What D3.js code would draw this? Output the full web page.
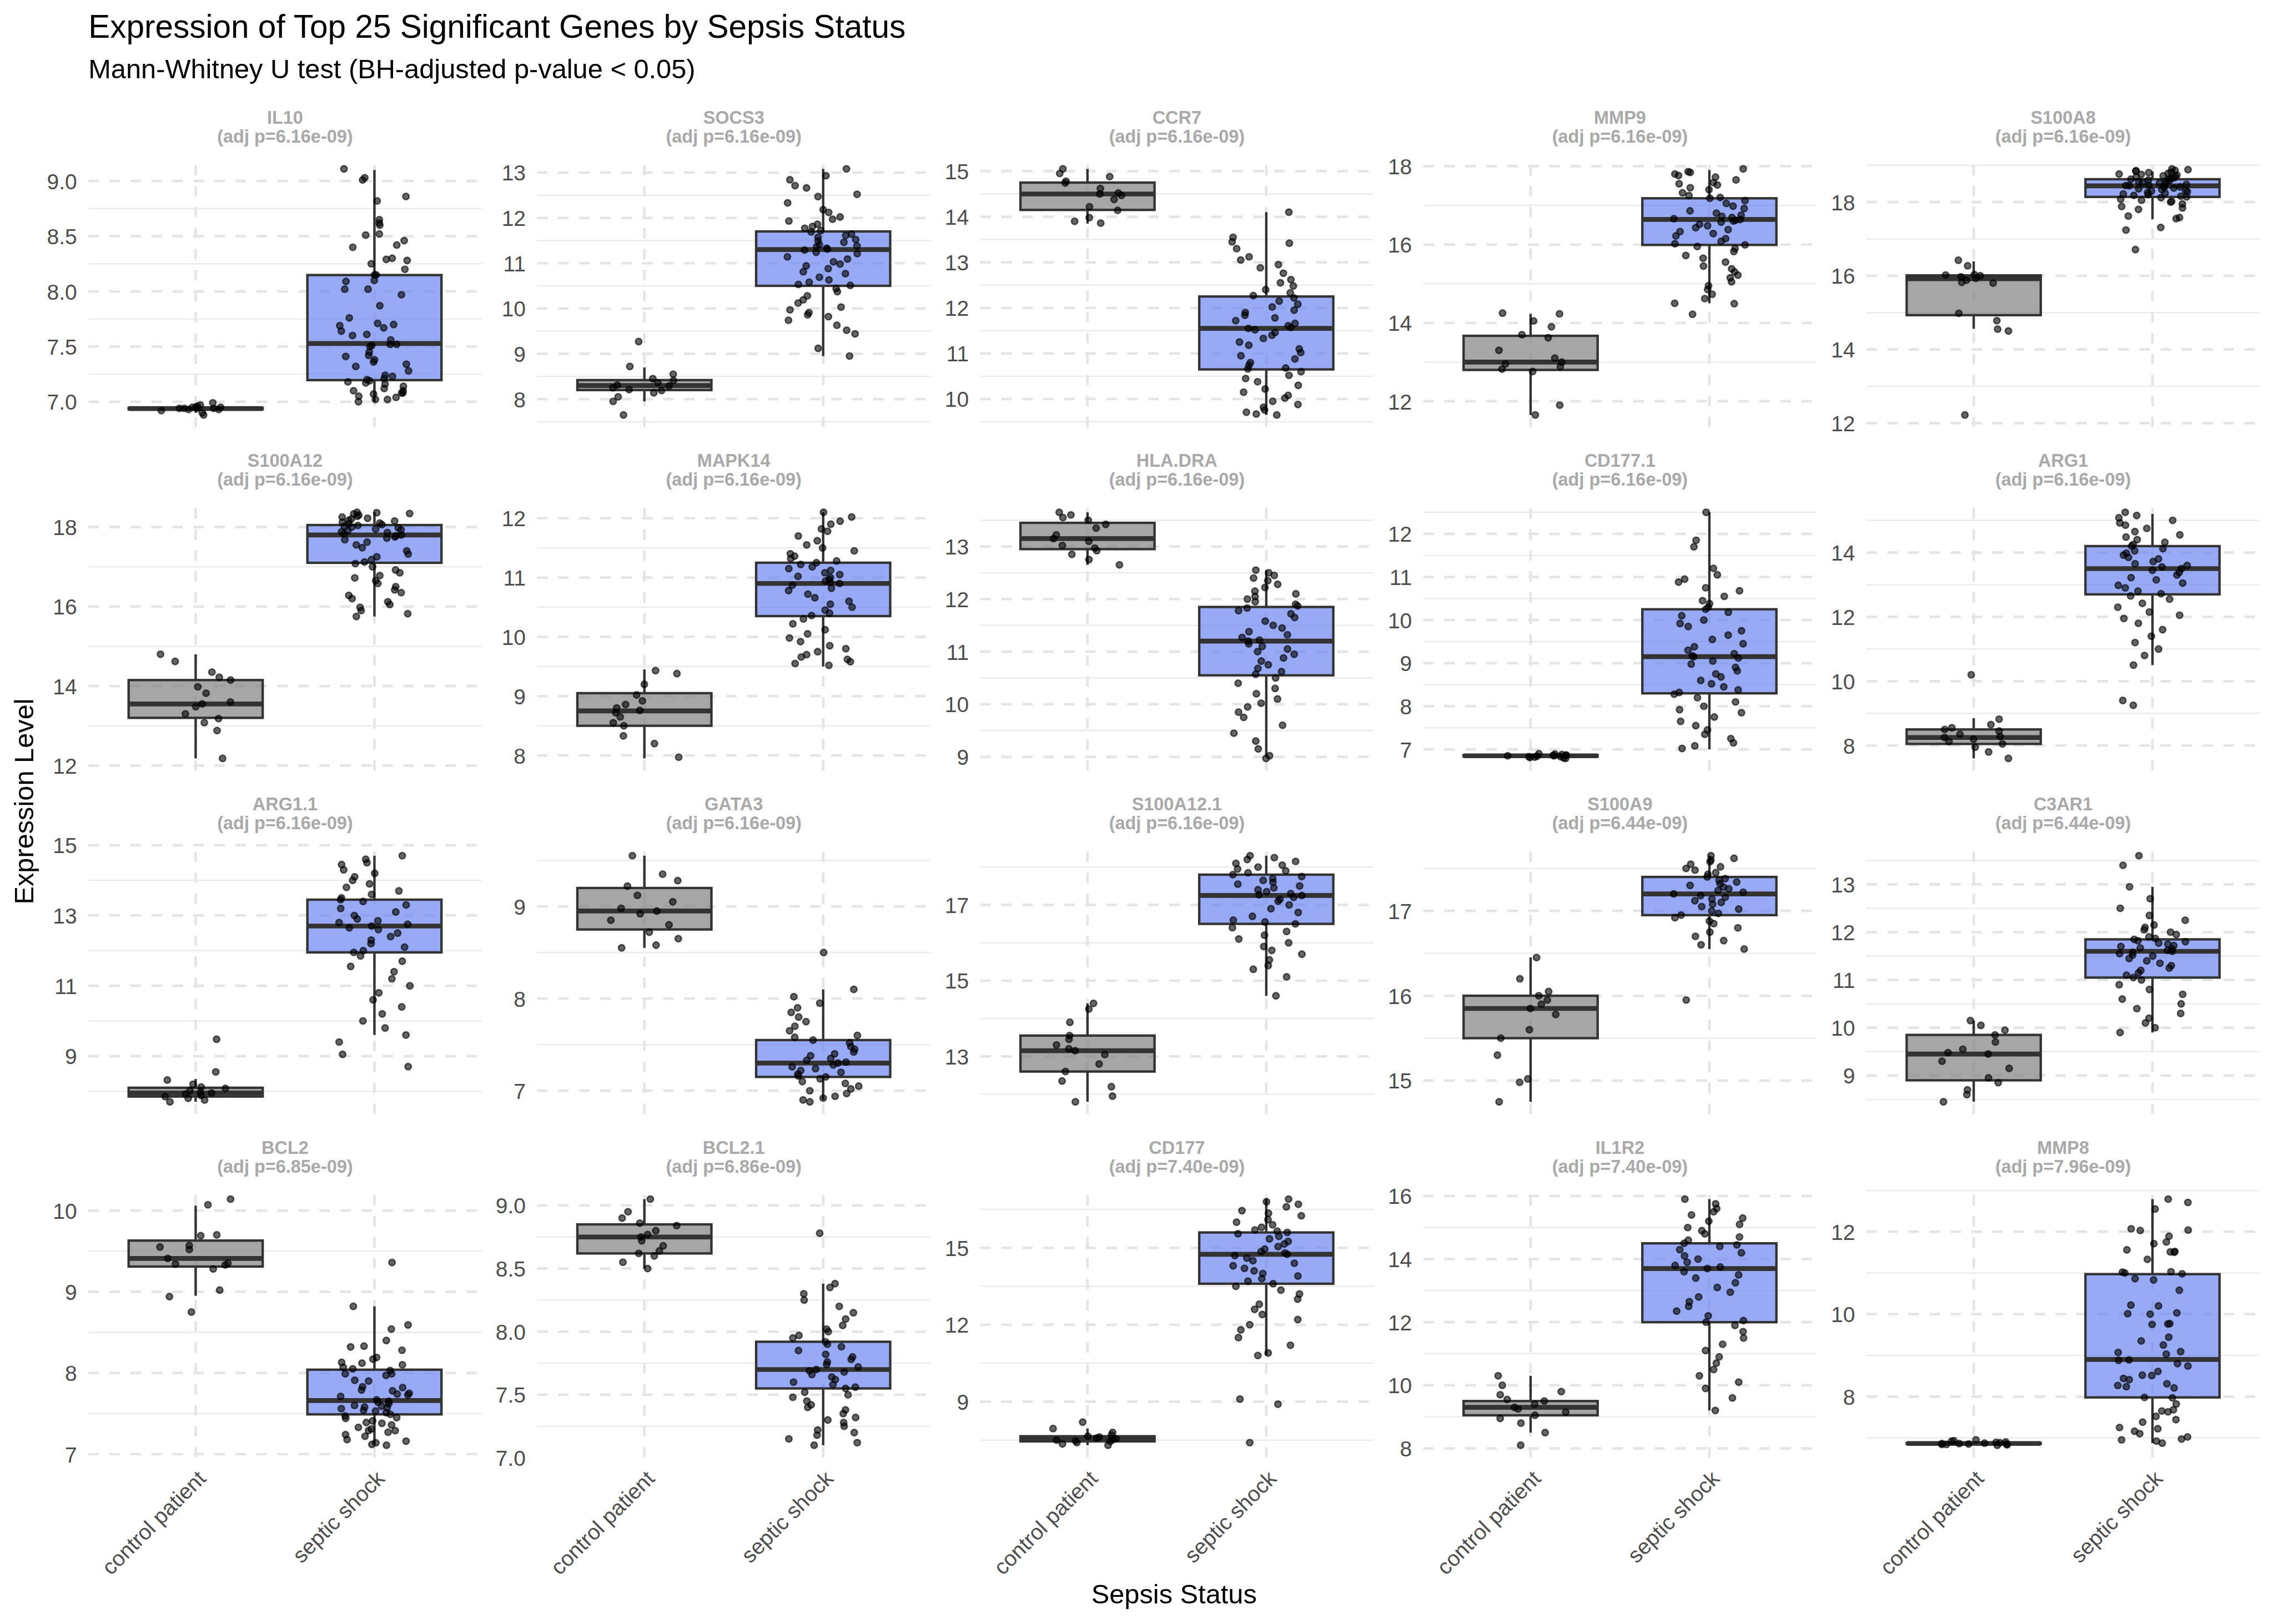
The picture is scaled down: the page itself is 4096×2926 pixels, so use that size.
<!DOCTYPE html>
<html><head><meta charset="utf-8">
<script src="https://cdn.jsdelivr.net/npm/d3@7"></script>
<style>html,body{margin:0;padding:0;background:#fff;overflow:hidden}</style>
</head><body><svg id="chart"></svg>
<script>
// ---------------- DATA ----------------
const genes = ["IL10","SOCS3","CCR7","MMP9","S100A8",
               "S100A12","MAPK14","HLA.DRA","CD177.1","ARG1",
               "ARG1.1","GATA3","S100A12.1","S100A9","C3AR1",
               "BCL2","BCL2.1","CD177","IL1R2","MMP8"];
const padj = ["6.16e-09","6.16e-09","6.16e-09","6.16e-09","6.16e-09",
              "6.16e-09","6.16e-09","6.16e-09","6.16e-09","6.16e-09",
              "6.16e-09","6.16e-09","6.16e-09","6.44e-09","6.44e-09",
              "6.85e-09","6.86e-09","7.40e-09","7.40e-09","7.96e-09"];
const groups = ["control patient","septic shock"];
const yTicks = [
  [7.0,7.5,8.0,8.5,9.0],[8,9,10,11,12,13],[10,11,12,13,14,15],[12,14,16,18],[12,14,16,18],
  [12,14,16,18],[8,9,10,11,12],[9,10,11,12,13],[7,8,9,10,11,12],[8,10,12,14],
  [9,11,13,15],[7,8,9],[13,15,17],[15,16,17],[9,10,11,12,13],
  [7,8,9,10],[7.0,7.5,8.0,8.5,9.0],[9,12,15],[8,10,12,14,16],[8,10,12]
];
// [lower whisker, Q1, median, Q3, upper whisker]
const controlStats = [
  [6.90,6.932,6.938,6.944,6.97],[7.95,8.2,8.3,8.42,8.7],[13.85,14.15,14.5,14.75,15.05],[11.65,12.8,13.0,13.67,14.23],[14.56,14.93,15.92,16.01,16.39],
  [12.18,13.2,13.55,14.15,14.8],[7.95,8.5,8.75,9.05,9.45],[12.65,12.95,13.15,13.45,13.65],[6.81,6.835,6.85,6.865,6.89],[7.6,8.05,8.25,8.5,8.85],
  [7.7,7.85,7.95,8.1,8.35],[8.55,8.75,8.95,9.2,9.55],[11.8,12.6,13.15,13.55,14.4],[14.75,15.5,15.85,16.0,16.45],[8.45,8.9,9.45,9.85,10.15],
  [8.95,9.31,9.41,9.63,10.06],[8.5,8.62,8.75,8.85,9.05],[7.3,7.45,7.55,7.65,7.95],[8.5,9.05,9.3,9.5,10.3],[6.84,6.855,6.862,6.87,6.9]
];
const shockStats = [
  [7.0,7.196,7.528,8.148,9.10],[8.95,10.5,11.3,11.7,13.08],[9.65,10.65,11.55,12.25,14.1],[14.5,15.99,16.64,17.18,17.9],[17.53,18.14,18.44,18.62,18.83],
  [15.75,17.1,17.8,18.05,18.37],[9.5,10.35,10.9,11.25,12.1],[9.0,10.55,11.2,11.85,12.55],[7.0,8.3,9.15,10.25,12.5],[10.5,12.7,13.5,14.2,15.2],
  [9.6,11.95,12.7,13.45,14.7],[6.9,7.15,7.3,7.55,8.1],[14.6,16.5,17.25,17.8,18.3],[16.55,16.95,17.2,17.4,17.65],[9.9,11.05,11.6,11.85,12.95],
  [7.13,7.49,7.66,8.04,8.82],[7.1,7.55,7.7,7.92,8.38],[10.8,13.6,14.75,15.6,16.9],[9.2,12.0,13.7,14.5,15.9],[6.87,7.98,8.90,10.97,12.79]
];
const controlValues = [
  [6.99,6.97,6.95,6.94,6.93,6.94,6.95,6.96,6.94,6.92,6.90,6.88,6.93,6.95,6.94],
  [9.27,8.72,8.55,8.45,8.41,8.36,8.31,8.29,8.25,8.21,8.19,8.14,8.05,7.95,7.65],
  [15.05,14.95,14.88,14.78,14.74,14.62,14.52,14.5,14.47,14.38,14.22,14.14,13.98,13.9,13.86],
  [14.25,14.23,14.05,13.9,13.7,13.62,13.3,13.1,13.0,12.95,12.88,12.82,12.76,11.9,11.65],
  [16.42,16.27,16.03,16.02,16.0,15.97,15.93,15.88,15.82,15.8,14.98,14.78,14.55,14.5,12.22],
  [14.8,14.62,14.35,14.22,14.15,13.98,13.82,13.6,13.55,13.48,13.3,13.18,13.08,12.88,12.18],
  [9.43,9.38,9.2,9.02,8.92,8.86,8.8,8.76,8.72,8.65,8.55,8.5,8.33,8.2,7.97],
  [13.65,13.6,13.55,13.5,13.42,13.35,13.22,13.15,13.1,13.02,12.97,12.92,12.85,12.75,12.65],
  [6.9,6.89,6.88,6.87,6.86,6.86,6.85,6.85,6.84,6.83,6.83,6.82,6.81,6.8,6.79],
  [10.2,8.82,8.65,8.55,8.5,8.45,8.35,8.28,8.25,8.2,8.12,8.05,7.95,7.8,7.6],
  [9.48,8.55,8.32,8.2,8.12,8.08,8.02,7.97,7.95,7.92,7.88,7.85,7.8,7.75,7.7],
  [9.55,9.35,9.28,9.22,9.12,9.05,8.98,8.95,8.92,8.85,8.8,8.72,8.65,8.58,8.55],
  [14.4,14.25,13.9,13.55,13.45,13.3,13.2,13.15,13.05,12.8,12.6,12.35,12.2,11.95,11.8],
  [16.45,16.2,16.05,16.0,15.95,15.9,15.85,15.78,15.6,15.5,15.3,15.02,14.98,14.75],
  [10.15,10.05,9.95,9.85,9.7,9.55,9.48,9.45,9.3,9.15,8.95,8.85,8.7,8.6,8.45],
  [10.14,10.07,9.70,9.69,9.57,9.55,9.52,9.41,9.35,9.34,9.33,9.28,9.02,8.94,8.75],
  [9.05,8.95,8.9,8.86,8.84,8.8,8.77,8.75,8.72,8.68,8.64,8.62,8.6,8.55,8.5],
  [8.2,7.95,7.8,7.7,7.65,7.62,7.58,7.55,7.52,7.5,7.47,7.45,7.4,7.35,7.3],
  [10.3,10.0,9.8,9.7,9.55,9.5,9.4,9.3,9.25,9.15,9.05,8.95,8.8,8.5,8.1],
  [6.95,6.93,6.92,6.9,6.89,6.88,6.87,6.86,6.86,6.85,6.85,6.84,6.83,6.82,6.84]
];
const shockValues = [
  [9.11,9.03,9.01,8.86,8.82,8.65,8.62,8.60,8.52,8.51,8.46,8.42,8.40,8.30,8.29,8.28,8.25,8.20,8.15,8.15,8.10,8.09,8.02,8.02,7.97,7.87,7.76,7.71,7.70,7.69,7.67,7.64,7.61,7.60,7.56,7.52,7.52,7.51,7.50,7.45,7.42,7.41,7.38,7.36,7.34,7.32,7.28,7.24,7.23,7.21,7.20,7.19,7.18,7.17,7.16,7.14,7.12,7.10,7.10,7.08,7.08,7.07,7.05,7.04,7.02,7.02,7.00],
  [13.08,12.93,12.84,12.71,12.66,12.52,12.47,12.33,12.18,12.12,12.02,11.97,11.93,11.86,11.81,11.77,11.72,11.69,11.64,11.61,11.57,11.52,11.49,11.46,11.41,11.38,11.36,11.33,11.31,11.29,11.24,11.21,11.14,11.09,11.03,10.98,10.94,10.88,10.81,10.77,10.69,10.63,10.58,10.53,10.51,10.44,10.37,10.28,10.19,10.12,10.03,9.97,9.91,9.86,9.82,9.74,9.63,9.52,9.44,9.12,8.95],
  [14.1,13.55,13.45,13.42,13.3,13.12,13.05,12.95,12.88,12.76,12.62,12.55,12.48,12.4,12.33,12.27,12.22,12.15,12.08,12.02,11.95,11.9,11.84,11.78,11.72,11.66,11.61,11.57,11.55,11.52,11.46,11.4,11.33,11.25,11.18,11.1,11.02,10.95,10.88,10.8,10.74,10.68,10.66,10.6,10.52,10.45,10.38,10.3,10.22,10.15,10.08,10.02,9.95,9.88,9.82,9.76,9.71,9.67,9.65],
  [17.93,17.86,17.84,17.8,17.76,17.72,17.65,17.58,17.55,17.52,17.45,17.4,17.32,17.25,17.2,17.18,17.12,17.05,16.98,16.92,16.86,16.8,16.75,16.72,16.69,16.66,16.64,16.62,16.6,16.57,16.52,16.48,16.43,16.38,16.33,16.28,16.22,16.15,16.08,16.02,15.99,15.95,15.9,15.82,15.72,15.65,15.55,15.45,15.38,15.3,15.22,15.15,15.05,14.95,14.85,14.73,14.62,14.5,14.49,14.22],
  [18.9,18.88,18.86,18.85,18.84,18.81,18.8,18.78,18.76,18.75,18.73,18.71,18.7,18.68,18.66,18.65,18.63,18.62,18.6,18.58,18.57,18.55,18.53,18.52,18.5,18.48,18.46,18.45,18.44,18.43,18.41,18.4,18.38,18.36,18.34,18.31,18.3,18.28,18.26,18.24,18.22,18.2,18.18,18.16,18.14,18.12,18.08,18.05,18.02,18.0,17.95,17.88,17.84,17.8,17.62,17.58,17.55,17.31,17.24,16.71],
  [18.37,18.36,18.34,18.33,18.3,18.27,18.25,18.22,18.2,18.17,18.15,18.12,18.1,18.08,18.06,18.04,18.02,18.0,17.98,17.95,17.93,17.9,17.88,17.86,17.83,17.8,17.78,17.75,17.72,17.68,17.62,17.55,17.48,17.4,17.32,17.25,17.18,17.12,17.08,17.0,16.92,16.85,16.78,16.72,16.65,16.58,16.5,16.42,16.35,16.28,16.2,16.12,16.05,15.98,15.9,15.82,15.75],
  [12.1,12.02,11.95,11.9,11.82,11.78,11.7,11.62,11.55,11.5,11.45,11.4,11.36,11.32,11.28,11.25,11.22,11.18,11.15,11.12,11.08,11.05,11.02,11.0,10.97,10.94,10.92,10.9,10.87,10.82,10.78,10.72,10.66,10.6,10.55,10.5,10.45,10.4,10.36,10.3,10.22,10.12,10.05,9.98,9.92,9.85,9.8,9.75,9.7,9.66,9.62,9.58,9.55,9.52],
  [12.55,12.5,12.45,12.4,12.35,12.28,12.22,12.15,12.1,12.05,12.0,11.95,11.9,11.87,11.83,11.78,11.72,11.65,11.58,11.5,11.45,11.38,11.32,11.27,11.22,11.2,11.15,11.1,11.05,11.0,10.95,10.88,10.82,10.75,10.68,10.62,10.57,10.5,10.4,10.3,10.2,10.1,10.02,9.95,9.85,9.75,9.6,9.45,9.3,9.15,9.02,8.97],
  [12.5,11.85,11.7,11.2,11.05,10.95,10.88,10.75,10.68,10.55,10.45,10.38,10.3,10.25,10.18,10.1,10.0,9.92,9.85,9.75,9.65,9.55,9.45,9.38,9.3,9.22,9.17,9.15,9.12,9.05,8.98,8.9,8.82,8.75,8.68,8.6,8.52,8.45,8.38,8.32,8.28,8.2,8.1,8.0,7.92,7.85,7.75,7.65,7.55,7.45,7.35,7.25,7.15,7.08,7.02],
  [15.25,15.15,15.08,15.0,14.92,14.85,14.75,14.65,14.55,14.48,14.4,14.32,14.25,14.2,14.12,14.05,13.98,13.92,13.85,13.8,13.72,13.65,13.6,13.55,13.5,13.45,13.38,13.3,13.22,13.15,13.05,12.98,12.9,12.8,12.72,12.65,12.55,12.42,12.3,12.15,12.05,11.95,11.8,11.6,11.4,11.2,11.0,10.8,10.5,9.4,9.25],
  [14.7,14.6,14.5,14.45,14.3,14.2,14.1,14.0,13.9,13.8,13.7,13.6,13.5,13.45,13.4,13.3,13.2,13.1,13.0,12.9,12.85,12.8,12.75,12.7,12.65,12.6,12.5,12.4,12.3,12.2,12.1,12.0,11.95,11.85,11.7,11.55,11.4,11.2,11.0,10.8,10.6,10.4,10.2,10.0,9.8,9.6,9.4,9.05,8.7],
  [8.5,8.1,8.02,7.95,7.9,7.85,7.8,7.75,7.7,7.65,7.6,7.58,7.55,7.52,7.48,7.45,7.42,7.4,7.38,7.35,7.33,7.31,7.3,7.28,7.26,7.24,7.22,7.2,7.18,7.16,7.15,7.13,7.1,7.08,7.05,7.02,7.0,6.97,6.94,6.92,6.9,6.88],
  [18.3,18.25,18.2,18.15,18.1,18.05,18.0,17.95,17.9,17.85,17.8,17.75,17.7,17.65,17.6,17.55,17.5,17.45,17.4,17.35,17.3,17.27,17.25,17.2,17.15,17.1,17.0,16.9,16.8,16.7,16.6,16.55,16.5,16.4,16.3,16.2,16.1,16.0,15.9,15.8,15.7,15.55,15.4,15.3,15.1,14.6],
  [17.65,17.62,17.6,17.58,17.55,17.52,17.5,17.48,17.45,17.43,17.4,17.38,17.36,17.34,17.32,17.3,17.28,17.26,17.24,17.22,17.2,17.18,17.16,17.14,17.12,17.1,17.08,17.05,17.02,17.0,16.97,16.95,16.92,16.88,16.85,16.8,16.75,16.7,16.65,16.6,16.55,15.95],
  [13.6,13.4,12.95,12.7,12.5,12.35,12.25,12.15,12.1,12.05,12.0,11.95,11.9,11.87,11.85,11.82,11.8,11.77,11.75,11.72,11.7,11.67,11.65,11.62,11.6,11.58,11.55,11.52,11.5,11.45,11.4,11.35,11.3,11.25,11.2,11.15,11.1,11.05,11.0,10.9,10.8,10.7,10.6,10.5,10.4,10.3,10.2,10.1,10.0,9.9],
  [9.36,8.82,8.59,8.54,8.40,8.33,8.32,8.28,8.19,8.17,8.13,8.12,8.10,8.07,8.05,8.03,7.99,7.99,7.97,7.91,7.90,7.83,7.82,7.79,7.78,7.75,7.74,7.73,7.71,7.67,7.65,7.64,7.62,7.60,7.59,7.58,7.57,7.56,7.54,7.53,7.51,7.49,7.47,7.45,7.44,7.41,7.39,7.38,7.36,7.33,7.31,7.29,7.29,7.27,7.24,7.22,7.18,7.16,7.14,7.12,7.11],
  [8.78,8.38,8.35,8.3,8.25,8.2,8.15,8.1,8.05,8.02,8.0,7.97,7.95,7.92,7.9,7.88,7.85,7.82,7.8,7.78,7.76,7.74,7.72,7.7,7.69,7.68,7.66,7.64,7.62,7.6,7.58,7.56,7.55,7.52,7.5,7.48,7.45,7.42,7.4,7.38,7.35,7.32,7.3,7.28,7.25,7.22,7.2,7.18,7.15,7.12,7.1],
  [16.9,16.8,16.7,16.6,16.45,16.35,16.25,16.1,16.0,15.9,15.8,15.7,15.65,15.6,15.55,15.45,15.35,15.25,15.15,15.05,14.95,14.85,14.8,14.75,14.7,14.6,14.5,14.4,14.3,14.2,14.1,14.0,13.9,13.8,13.7,13.6,13.5,13.35,13.2,13.0,12.8,12.6,12.4,12.2,12.0,11.8,11.5,11.2,10.9,10.8,9.1,8.9,7.4],
  [15.9,15.75,15.6,15.5,15.4,15.3,15.2,15.1,15.0,14.9,14.8,14.7,14.6,14.5,14.45,14.4,14.3,14.2,14.1,14.0,13.9,13.8,13.75,13.7,13.6,13.5,13.4,13.25,13.1,12.95,12.8,12.65,12.5,12.35,12.2,12.05,12.0,11.9,11.7,11.5,11.3,11.1,10.9,10.7,10.5,10.3,10.1,9.9,9.6,9.2],
  [12.79,12.71,12.55,12.07,12.04,12.03,11.89,11.75,11.71,11.56,11.52,11.51,11.5,11.33,11.03,11.02,11.0,10.98,10.86,10.83,10.58,10.22,10.2,10.03,10.01,10.0,9.77,9.76,9.75,9.44,9.35,9.25,9.09,9.07,9.03,8.89,8.88,8.8,8.74,8.61,8.52,8.51,8.44,8.41,8.31,8.27,8.24,8.21,7.98,7.97,7.82,7.68,7.65,7.63,7.52,7.44,7.38,7.25,7.22,7.16,7.1,7.02,6.97,6.95,6.92,6.87]
];
const titleText = "Expression of Top 25 Significant Genes by Sepsis Status";
const subtitleText = "Mann-Whitney U test (BH-adjusted p-value < 0.05)";
const xTitle = "Sepsis Status", yTitle = "Expression Level";

// ---------------- LAYOUT ----------------
const W = 4200, H = 3000, S = 0.975;
const FONT = "'Liberation Sans', Arial, Helvetica, sans-serif";
const svg = d3.select("#chart").attr("width", W*S).attr("height", H*S)
  .attr("viewBox", `0 0 ${W} ${H}`).style("display","block");
svg.append("rect").attr("width", W).attr("height", H).attr("fill", "#fff");

const colLeft = [163.3, 992.3, 1810.9, 2629.5, 3448.1], PW = 726.6;
const rowTop = [289.4, 924.0, 1558.6, 2193.2], PH = 500.2;
const fills = ["#808080", "#6C86F1"];

svg.append("text").attr("x", 163.3).attr("y", 70).attr("font-family", FONT)
  .attr("font-size", 60).attr("fill", "#000").text(titleText);
svg.append("text").attr("x", 163.3).attr("y", 144.3).attr("font-family", FONT)
  .attr("font-size", 50).attr("fill", "#000").text(subtitleText);
svg.append("text").attr("x", 2169).attr("y", 2963).attr("text-anchor", "middle")
  .attr("font-family", FONT).attr("font-size", 50).attr("fill", "#000").text(xTitle);
svg.append("text").attr("transform", "translate(61.7,1481) rotate(-90)").attr("text-anchor", "middle")
  .attr("font-family", FONT).attr("font-size", 50).attr("fill", "#000").text(yTitle);

// deterministic horizontal spread for the jittered points (layout only)
function spread(i, seed) {
  const s = Math.sin((i + 1) * 12.9898 + (seed + 1) * 78.233) * 43758.5453;
  return s - Math.floor(s);
}

genes.forEach((gene, g) => {
  const col = g % 5, row = Math.floor(g / 5);
  const p = svg.append("g").attr("transform", `translate(${colLeft[col]},${rowTop[row]})`);
  const x = d3.scalePoint().domain(groups).range([0, PW]).padding(0.6);
  const step = x.step();
  const all = controlValues[g].concat(shockValues[g], controlStats[g], shockStats[g]);
  const [mn, mx] = d3.extent(all);
  const pad = (mx - mn) * 0.05;
  const y = d3.scaleLinear().domain([mn - pad, mx + pad]).range([PH, 0]);
  const ticks = yTicks[g];
  const tstep = ticks[1] - ticks[0];
  const dom = y.domain();
  // minor grid
  const minors = [];
  for (let v = ticks[0] - tstep / 2; v <= dom[1]; v += tstep) if (v >= dom[0]) minors.push(v);
  p.selectAll(".minor").data(minors).join("line")
    .attr("x1", 0).attr("x2", PW).attr("y1", d => y(d)).attr("y2", d => y(d))
    .attr("stroke", "#EBEBEB").attr("stroke-width", 2.5);
  // major grid (dashed)
  p.selectAll(".major").data(ticks.filter(t => t >= dom[0] && t <= dom[1])).join("line")
    .attr("x1", 0).attr("x2", PW).attr("y1", d => y(d)).attr("y2", d => y(d))
    .attr("stroke", "#E5E5E5").attr("stroke-width", 4.85).attr("stroke-dasharray", "19.4,19.4");
  p.selectAll(".vmajor").data(groups).join("line")
    .attr("x1", d => x(d)).attr("x2", d => x(d)).attr("y1", PH).attr("y2", 0)
    .attr("stroke", "#E5E5E5").attr("stroke-width", 4.85).attr("stroke-dasharray", "19.4,19.4");
  // y axis
  const fmt = Number.isInteger(tstep) ? d3.format("d") : d3.format(".1f");
  const ya = p.append("g").call(d3.axisLeft(y).tickValues(ticks).tickSize(0).tickPadding(21).tickFormat(fmt));
  ya.select(".domain").remove();
  ya.selectAll("text").attr("font-family", FONT).attr("font-size", 40).attr("fill", "#4D4D4D").attr("dy", "0.36em");
  // strip
  p.append("text").attr("x", PW / 2).attr("y", -61.1).attr("text-anchor", "middle")
    .attr("font-family", FONT).attr("font-size", 33.3).attr("font-weight", "bold").attr("fill", "#A9A9A9").text(gene);
  p.append("text").attr("x", PW / 2).attr("y", -26.1).attr("text-anchor", "middle")
    .attr("font-family", FONT).attr("font-size", 33.3).attr("font-weight", "bold").attr("fill", "#A9A9A9")
    .text(`(adj p=${padj[g]})`);
  // boxplots
  const stats = [controlStats[g], shockStats[g]];
  const bw = 0.75 * step;
  groups.forEach((grp, k) => {
    const [lo, q1, med, q3, hi] = stats[k];
    const cx = x(grp);
    p.append("line").attr("x1", cx).attr("x2", cx).attr("y1", y(q3)).attr("y2", y(hi))
      .attr("stroke", "#333333").attr("stroke-width", 4.45);
    p.append("line").attr("x1", cx).attr("x2", cx).attr("y1", y(q1)).attr("y2", y(lo))
      .attr("stroke", "#333333").attr("stroke-width", 4.45);
    p.append("rect").attr("x", cx - bw / 2).attr("width", bw)
      .attr("y", y(q3)).attr("height", Math.max(0, y(q1) - y(q3)))
      .attr("fill", fills[k]).attr("fill-opacity", 0.7)
      .attr("stroke", "#333333").attr("stroke-width", 4.45);
    p.append("line").attr("x1", cx - bw / 2).attr("x2", cx + bw / 2).attr("y1", y(med)).attr("y2", y(med))
      .attr("stroke", "#333333").attr("stroke-width", 8.9);
  });
  // jittered points
  [controlValues[g], shockValues[g]].forEach((vals, k) => {
    const cx = x(groups[k]);
    p.append("g").selectAll("circle").data(vals).join("circle")
      .attr("cx", (d, i) => cx + (spread(i, g * 2 + k) - 0.5) * 0.4 * step)
      .attr("cy", d => y(d)).attr("r", 5.9)
      .attr("fill", "#000").attr("fill-opacity", 0.6)
      .attr("stroke", "#000").attr("stroke-opacity", 0.6).attr("stroke-width", 2.7);
  });
  // x axis (bottom row)
  if (row === 3) {
    const xa = p.append("g").attr("transform", `translate(0,${PH})`).call(d3.axisBottom(x).tickSize(0));
    xa.select(".domain").remove();
    xa.selectAll("text").attr("y", 0).attr("dy", "0.73em")
      .attr("transform", "translate(0,20.7) rotate(-45)").attr("text-anchor", "end")
      .attr("font-family", FONT).attr("font-size", 40).attr("fill", "#4D4D4D");
  }
});
</script>
</body></html>
